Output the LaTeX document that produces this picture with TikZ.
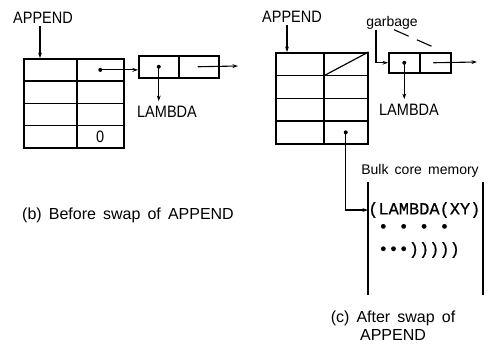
\documentclass[tikz,border=0pt]{standalone}
\usepackage{fontspec}
\setmainfont{Liberation Sans}
\newfontfamily\lettering[WordSpace=1.6]{Liberation Sans}
\newfontfamily\tallletters[FakeStretch=0.88]{Liberation Sans}
\newfontfamily\coretext[FakeBold=0.6]{Liberation Mono}
\usetikzlibrary{arrows.meta}

\begin{document}
\begin{tikzpicture}[
  x=1pt, y=-1pt,
  >={Stealth[length=5.5pt,width=3.8pt]},
  lbl/.style={font=\tallletters\fontsize{16.5}{18}\selectfont, inner sep=0pt},
  slbl/.style={font=\lettering\fontsize{14}{16}\selectfont, inner sep=0pt},
  caption/.style={font=\lettering\fontsize{16}{18}\selectfont, inner sep=0pt, align=center},
  core/.style={font=\coretext\fontsize{17}{19}\selectfont, inner sep=0pt, anchor=west},
  cell/.style={draw, line width=1.5pt, inner sep=0pt, anchor=north west},
  ptr/.style={->, line width=1.1pt},
  wall/.style={line width=1.4pt},
]
\useasboundingbox (0,0) rectangle (489,343);

% ============================================================ (b) BEFORE SWAP
\node[lbl] (bapp) at (43,18) {APPEND};

\foreach \r in {1,...,4} {
  \node[cell, minimum width=53pt, minimum height=22.25pt] (bL\r) at (23,{58+22.25*(\r-1)}) {};
  \node[cell, minimum width=47pt, minimum height=22.25pt] (bR\r) at (76,{58+22.25*(\r-1)}) {};
}
\node[lbl] (bzero) at (bR4.center) {0};

\draw[ptr] ([xshift=-3pt,yshift=-2pt]bapp.south) -- ([xshift=-3pt]bapp.south |- bL1.north);

% the list cell the entry points at
\node[cell, minimum width=40pt, minimum height=22pt] (bcar) at (138,55) {};
\node[cell, minimum width=40pt, minimum height=22pt] (bcdr) at (178,55) {};
\node[lbl] (blam) at (167,112) {LAMBDA};
\coordinate (bnext) at (238,66);

\fill (bR1.center) circle[radius=2pt];
\draw[ptr] (bR1.center) -- (bR1.center -| bcar.west);
\fill (bcar.center) circle[radius=2pt];
\draw[ptr] (bcar.center) -- ([yshift=5pt]bcar.center |- blam.north);
\draw[ptr] ([xshift=-1pt]bcdr.center) -- (bnext);

\node[caption] (bcap) at (128,215) {(b) Before swap of APPEND};

% ============================================================ (c) AFTER SWAP
\node[lbl] (capp) at (292,17) {APPEND};

\foreach \r in {1,...,4} {
  \node[cell, minimum width=48pt, minimum height=22.75pt] (cL\r) at (275,{52+22.75*(\r-1)}) {};
  \node[cell, minimum width=44pt, minimum height=22.75pt] (cR\r) at (323,{52+22.75*(\r-1)}) {};
}
\draw[line width=1.2pt] (cR1.south west) -- (cR1.north east);

\draw[ptr] ([xshift=-5pt,yshift=-2pt]capp.south) -- ([xshift=-5pt]capp.south |- cL1.north);

% the old list cell is now garbage
\node[cell, minimum width=31pt, minimum height=20pt] (ccar) at (388,52) {};
\node[cell, minimum width=31pt, minimum height=20pt] (ccdr) at (419,52) {};
\node[lbl] (clam) at (409,110) {LAMBDA};
\node[slbl] (cgarb) at (392,23) {garbage};
\coordinate (cnext) at (477,62);

\fill (ccar.center) circle[radius=2pt];
\draw[ptr] (ccar.center) -- ([yshift=5pt]ccar.center |- clam.north);
\draw[ptr] ([xshift=-2pt]ccdr.center) -- (cnext);
\draw[ptr] ([xshift=-16pt]cgarb.south) |- (ccar.west);
\draw[line width=1.1pt, dash pattern=on 16pt off 9pt]
  ([xshift=2pt]cgarb.south) -- ([xshift=-2pt,yshift=5pt]ccdr.north);

% bulk core memory
\node[slbl] (cbulk) at (420,171) {Bulk core memory};
\draw[wall] (368,182) -- (368,295);
\draw[wall] (483,182) -- (483,295);
\node[core] (ctext) at (368,210) {(LAMBDA(XY)};
\node[core] (cdots) at (378,228) {• • • •};
\node[core] (cclose) at (378,250) {•••)))))};

\fill (cR4.center) circle[radius=2pt];
\draw[ptr] (cR4.center) |- (ctext.west);

\node[caption] (ccap) at (393,326) {(c) After swap of\\APPEND};

\end{tikzpicture}
\end{document}
